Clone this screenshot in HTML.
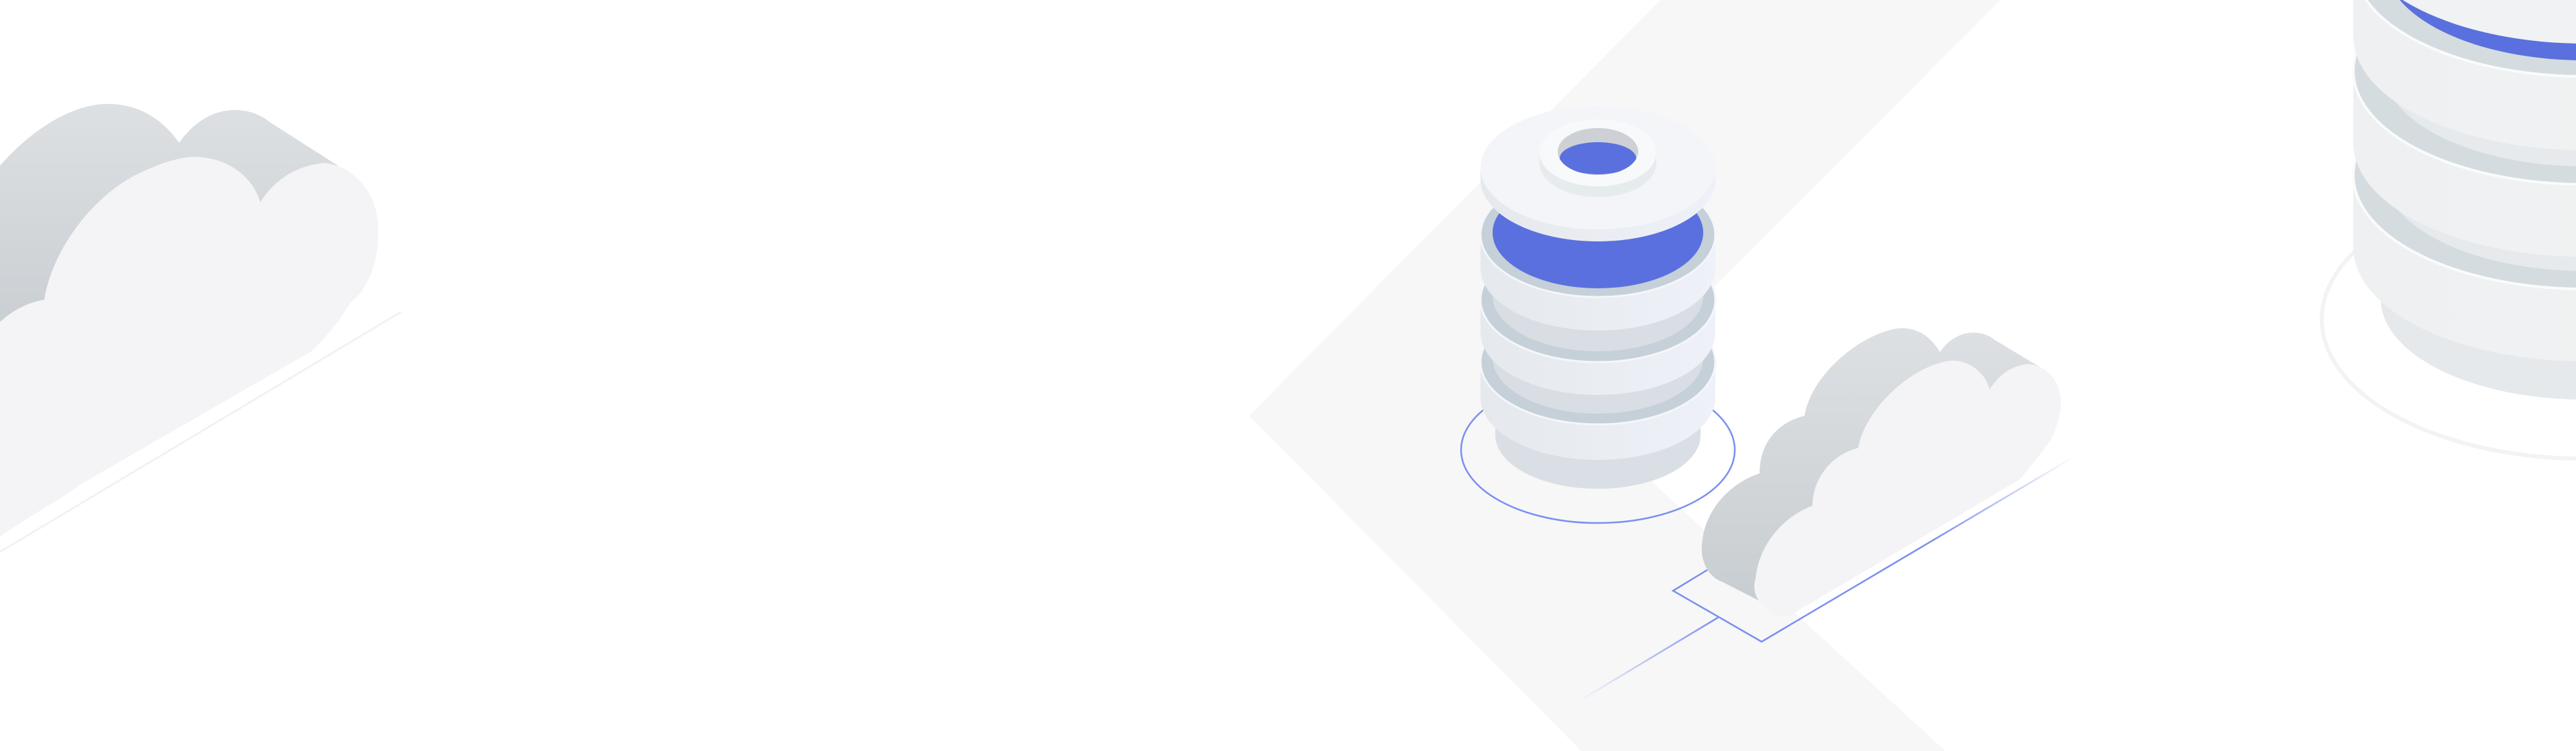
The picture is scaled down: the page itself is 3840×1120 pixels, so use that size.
<!DOCTYPE html>
<html><head><meta charset="utf-8"><style>
html,body{margin:0;padding:0;background:#fff;}
svg{display:block;}
</style></head><body>
<svg width="3840" height="1120" viewBox="0 0 3840 1120" xmlns="http://www.w3.org/2000/svg">
<defs>
<linearGradient id="side" x1="0" y1="0" x2="1" y2="0"><stop offset="0" stop-color="#e5e9ed"/><stop offset="1" stop-color="#eef1f8"/></linearGradient>
<linearGradient id="rside" x1="0" y1="0" x2="1" y2="0"><stop offset="0" stop-color="#eef0f1"/><stop offset="1" stop-color="#f2f3f4"/></linearGradient>
<linearGradient id="gcloud" x1="0" y1="0" x2="0" y2="1"><stop offset="0" stop-color="#dde0e3"/><stop offset="1" stop-color="#c8cdd1"/></linearGradient>
<linearGradient id="gline" x1="3092" y1="681" x2="2627" y2="957" gradientUnits="userSpaceOnUse"><stop offset="0" stop-color="#7b8ff0" stop-opacity="0"/><stop offset="0.45" stop-color="#7b8ff0"/><stop offset="1" stop-color="#7b8ff0"/></linearGradient>
<linearGradient id="gline2" x1="2561" y1="921" x2="2353" y2="1046" gradientUnits="userSpaceOnUse"><stop offset="0" stop-color="#7b8ff0"/><stop offset="1" stop-color="#7b8ff0" stop-opacity="0"/></linearGradient>
<clipPath id="hole"><ellipse cx="2382" cy="226" rx="60" ry="35"/></clipPath>
</defs>

<!-- background band -->
<polygon points="2475,0 2982,0 2554,429 2440,560 2465,721 2900,1120 2357,1120 1862,620" fill="#f7f7f7"/>

<!-- left cloud -->
<path d="M0,247 C50,190 110,155 160,155 C205,155 240,175 267,213 C290,180 320,164 350,164 C372,164 390,172 402,182 L502,246 L530,300 L300,420 L0,520 Z" fill="url(#gcloud)"/>
<path d="M0,480 C20,462 42,451 66,447 C76,380 130,300 200,262 C240,242 270,234 290,234 C340,234 378,265 388,302 C410,266 445,246 485,243 C540,252 566,300 564,350 C562,400 545,435 523,451 C505,480 485,505 464,524 L119,723 C90,745 60,760 0,800 Z" fill="#f4f4f6"/>
<line x1="598" y1="465" x2="0" y2="823" stroke="#f2f2f2" stroke-width="3"/>

<!-- center database ring -->
<ellipse cx="2382" cy="671" rx="204" ry="109" fill="none" stroke="#7b8ff0" stroke-width="2.5"/>

<!-- base -->
<rect x="2229" y="560" width="306" height="89" fill="#d9dfe4"/>
<ellipse cx="2382" cy="649" rx="153" ry="80" fill="#d9dfe4"/>

<!-- disk4 -->
<path d="M2207,540 L2207,593 A175,93 0 0 0 2557,593 L2557,540 Z" fill="url(#side)"/>
<ellipse cx="2382" cy="540" rx="175" ry="93" fill="#c5d0d8" stroke="#f4f6f9" stroke-width="3"/>
<ellipse cx="2382" cy="534" rx="157" ry="83" fill="#d8dee3"/>
<!-- disk3 -->
<path d="M2207,447 L2207,496 A175,93 0 0 0 2557,496 L2557,447 Z" fill="url(#side)"/>
<ellipse cx="2382" cy="447" rx="175" ry="93" fill="#c5d0d8" stroke="#f4f6f9" stroke-width="3"/>
<ellipse cx="2382" cy="441" rx="157" ry="83" fill="#d8dee3"/>
<!-- disk2 -->
<path d="M2207,350 L2207,400 A175,93 0 0 0 2557,400 L2557,350 Z" fill="url(#side)"/>
<ellipse cx="2382" cy="350" rx="175" ry="93" fill="#c5d0d8" stroke="#f4f6f9" stroke-width="3"/>
<ellipse cx="2382" cy="347" rx="157" ry="83" fill="#5a70de"/>
<!-- disk1 -->
<path d="M2207,250 L2207,268 A175,92 0 0 0 2557,268 L2557,250 Z" fill="url(#side)"/>
<ellipse cx="2382" cy="250" rx="175" ry="92" fill="#f4f5f8"/>
<path d="M2295,228 L2295,244 A87,50 0 0 0 2469,244 L2469,228 Z" fill="#e6ebee"/>
<ellipse cx="2382" cy="228" rx="87" ry="50" fill="#f8f9fa"/>
<ellipse cx="2382" cy="226" rx="60" ry="35" fill="#cdd1d5"/>
<ellipse cx="2382" cy="236" rx="57" ry="24" fill="#5a70de" clip-path="url(#hole)"/>

<!-- connectors -->
<polyline points="2545,850 2494,881 2626,957 3092,681" fill="none" stroke="url(#gline)" stroke-width="2.5"/>
<line x1="2561" y1="921" x2="2353" y2="1046" stroke="url(#gline2)" stroke-width="2.5"/>

<!-- right cloud (center) -->
<path d="M2568,868 C2545,860 2535,835 2537,813 C2540,760 2580,720 2623,706 C2623,660 2650,630 2690,620 C2700,560 2770,500 2827,490 C2860,486 2880,505 2892,525 C2905,505 2925,496 2941,496 C2955,496 2965,500 2972,506 L3045,550 L3050,640 L2640,905 Z" fill="url(#gcloud)"/>
<path d="M2627,902 C2615,890 2613,875 2617,863 C2622,810 2660,770 2702,754 C2702,710 2735,676 2770,668 C2780,610 2850,545 2907,538 C2935,536 2960,556 2966,581 C2980,558 3000,545 3023,543 C3055,545 3075,575 3072,606 C3070,630 3060,655 3047,670 L3011,715 L2668,918 C2650,922 2635,912 2627,902 Z" fill="#f4f4f6"/>

<!-- right database -->
<ellipse cx="3853" cy="476" rx="392" ry="208" fill="none" stroke="#f3f3f3" stroke-width="6"/>
<rect x="3549" y="250" width="620" height="196" fill="#e5e9ec"/>
<ellipse cx="3853" cy="446" rx="304" ry="150" fill="#e5e9ec"/>
<!-- disk c -->
<path d="M3508,261 L3508,369 A345,170 0 0 0 4198,369 L4198,261 Z" fill="url(#rside)"/>
<ellipse cx="3853" cy="261" rx="345" ry="170" fill="#d5dce0" stroke="#fafbfb" stroke-width="4"/>
<ellipse cx="3853" cy="258" rx="300" ry="146" fill="#e6eaed"/>
<!-- disk b -->
<path d="M3508,105 L3508,213 A345,170 0 0 0 4198,213 L4198,105 Z" fill="url(#rside)"/>
<ellipse cx="3853" cy="105" rx="345" ry="170" fill="#d5dce0" stroke="#fafbfb" stroke-width="4"/>
<ellipse cx="3853" cy="102" rx="300" ry="146" fill="#e6eaed"/>
<!-- disk a -->
<path d="M3508,-56 L3508,54 A345,170 0 0 0 4198,54 L4198,-56 Z" fill="url(#rside)"/>
<ellipse cx="3853" cy="-56" rx="345" ry="170" fill="#d5dce0" stroke="#fafbfb" stroke-width="4"/>
<ellipse cx="3853" cy="-55" rx="298" ry="145" fill="#5a70de"/>
<!-- disk 0 -->
<path d="M3508,-300 L3508,-105 A345,170 0 0 0 4198,-105 L4198,-300 Z" fill="#f0f2f3"/>
</svg>
</body></html>
